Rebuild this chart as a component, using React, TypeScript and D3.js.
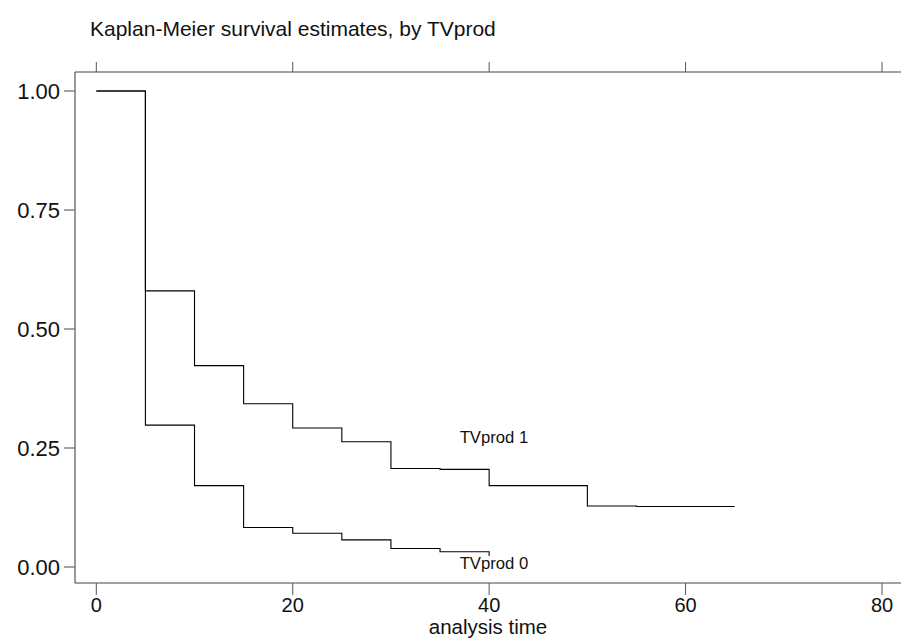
import React from "react";
import * as d3 from "d3";

const title = "Kaplan-Meier survival estimates, by TVprod";
const xTicks = [0, 20, 40, 60, 80];
const yTicks = [0, 0.25, 0.5, 0.75, 1];
const yTickLabels = ["0.00", "0.25", "0.50", "0.75", "1.00"];

// step times and survival after each time (TVprod 1)
const times1 = [0, 5, 10, 15, 20, 25, 30, 35, 40, 50, 55, 65];
const surv1 = [1.0, 0.58, 0.423, 0.343, 0.292, 0.263, 0.207, 0.205, 0.171, 0.128, 0.127, 0.127];
// TVprod 0
const times0 = [0, 5, 10, 15, 20, 25, 30, 35, 40];
const surv0 = [1.0, 0.298, 0.171, 0.083, 0.071, 0.057, 0.039, 0.032, 0.023];

const seriesLabels = ["TVprod 1", "TVprod 0"];
const labelX = [37, 37];
const labelY = [0.26, -0.005];

export default function App() {
  const W = 902, H = 639;
  const x = d3.scaleLinear().domain([0, 80]).range([96.3, 882]);
  const y = d3.scaleLinear().domain([0, 1]).range([567, 91]);
  const left = 75, top = 72, bottom = 583, right = 901;

  const stepPath = (t: number[], s: number[]) => {
    const pts: [number, number][] = [];
    for (let i = 0; i < t.length; i++) {
      if (i > 0) pts.push([t[i], s[i - 1]]);
      pts.push([t[i], s[i]]);
    }
    return d3.line<[number, number]>().x((d) => x(d[0])).y((d) => y(d[1]))(pts) || "";
  };

  const font = "Liberation Sans, Arial, sans-serif";
  return (
    <svg width={W} height={H} style={{ position: "absolute", left: 0, top: 0, background: "#fff" }} fontFamily={font}>
      <rect width={W} height={H} fill="#fff" />
      <text x={90} y={36} fontSize={21} fill="#111">{title}</text>
      {/* axes */}
      <line x1={left} x2={right} y1={top} y2={top} stroke="#444" strokeWidth={1.2} />
      <line x1={left} x2={right} y1={bottom} y2={bottom} stroke="#444" strokeWidth={1.2} />
      <line x1={left} x2={left} y1={top} y2={bottom} stroke="#555" strokeWidth={1.2} />
      {xTicks.map((t) => (
        <g key={"xt" + t}>
          <line x1={x(t)} x2={x(t)} y1={top} y2={top - 10} stroke="#555" />
          <line x1={x(t)} x2={x(t)} y1={bottom} y2={bottom + 12} stroke="#555" />
          <text x={x(t)} y={612} fontSize={20} textAnchor="middle" fill="#111">{t}</text>
        </g>
      ))}
      {yTicks.map((v, i) => (
        <g key={"yt" + v}>
          <line x1={left - 11} x2={left} y1={y(v)} y2={y(v)} stroke="#666" strokeWidth={1.2} />
          <text x={60} y={y(v) + 8} fontSize={22} textAnchor="end" fill="#111">{yTickLabels[i]}</text>
        </g>
      ))}
      <text x={(left + right) / 2} y={634} fontSize={20.5} textAnchor="middle" fill="#111">analysis time</text>
      {/* curves */}
      <path d={stepPath(times1, surv1)} fill="none" stroke="#000" strokeWidth={1.1} />
      <path d={stepPath(times0, surv0)} fill="none" stroke="#000" strokeWidth={1.1} />
      {seriesLabels.map((l, i) => (
        <text key={l} x={x(labelX[i])} y={y(labelY[i])} fontSize={16.7} fill="#111">{l}</text>
      ))}
    </svg>
  );
}
